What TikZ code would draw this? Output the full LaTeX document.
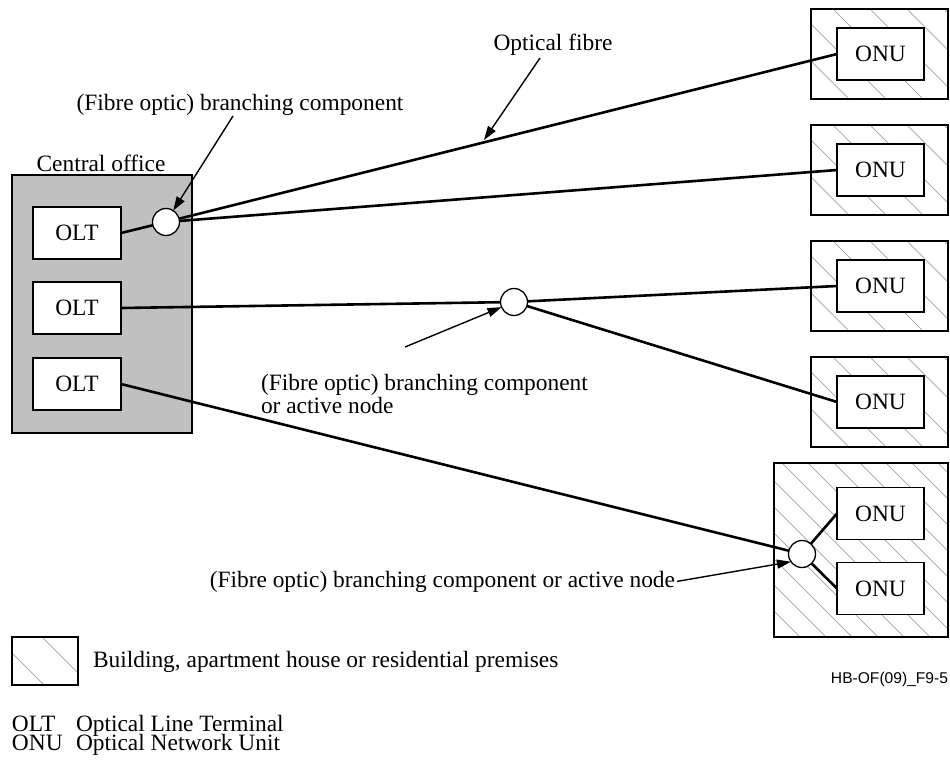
\documentclass[tikz,border=0pt]{standalone}
\usepackage{fontspec}
\setmainfont{Liberation Serif}
\newfontfamily\arialfont{Liberation Sans}
\usetikzlibrary{arrows.meta,backgrounds,calc}
\definecolor{cogray}{RGB}{192,192,192}
\definecolor{hatchgray}{RGB}{175,175,175}
\begin{document}
\begin{tikzpicture}[x=1pt,y=-1pt,
  every node/.style={font=\fontsize{23.4}{23}\selectfont},
  box/.style={draw, line width=1.3pt, fill=white, inner sep=0pt, outer sep=0pt},
  olt/.style={box, minimum width=88pt, minimum height=52pt},
  onu/.style={box, minimum width=87pt, minimum height=52pt},
  bldg/.style={draw, line width=1.3pt, inner sep=0pt, outer sep=0pt},
  split/.style={circle, draw, line width=1.3pt, fill=white, minimum size=27pt, inner sep=0pt, outer sep=0pt},
  fibre/.style={line width=2.6pt},
  arr/.style={line width=1.4pt, -{Triangle[length=14pt,width=9pt]}},
  hatch/.style={hatchgray, line width=1pt},
  txt/.style={inner sep=0pt, outer sep=0pt}
]
\useasboundingbox (0,0) rectangle (950,760);

% central office
\node[draw, line width=1.3pt, fill=cogray, inner sep=0pt, minimum width=180pt, minimum height=258pt] (co) at (102,304) {};
\node[txt, anchor=base] (tco) at (101,171) {Central office};

% buildings
\node[bldg, minimum width=137pt, minimum height=90pt] (b1) at (879.5,54) {};
\node[bldg, minimum width=137pt, minimum height=90pt] (b2) at (879.5,170) {};
\node[bldg, minimum width=137pt, minimum height=90pt] (b3) at (879.5,286) {};
\node[bldg, minimum width=137pt, minimum height=90pt] (b4) at (879.5,402) {};
\node[bldg, line width=2pt, minimum width=174pt, minimum height=174pt] (b5) at (861,550) {};
\node[bldg, minimum width=66pt, minimum height=48pt] (lg) at (45,661) {};

\begin{scope}[on background layer]
\foreach \bn/\sp in {b1/37,b2/37,b3/37,b4/37,b5/26,lg/46}{
  \begin{scope}
    \clip (\bn.south west) rectangle (\bn.north east);
    \foreach \k in {0,...,22}{
      \draw[hatch] ($(\bn.north west)+({\k*\sp-200},0)$) -- ++(300,300);
    }
  \end{scope}
}
\end{scope}

% OLTs
\node[olt] (olt1) at (77,233) {OLT};
\node[olt] (olt2) at (77,308) {OLT};
\node[olt] (olt3) at (77,384) {OLT};

% ONUs
\node[onu] (onu1) at (880.5,54) {ONU};
\node[onu] (onu2) at (880.5,170) {ONU};
\node[onu] (onu3) at (880.5,286) {ONU};
\node[onu] (onu4) at (880.5,402) {ONU};
\node[onu] (onu5) at (880.5,513.5) {ONU};
\node[onu] (onu6) at (880.5,588.5) {ONU};

% splitters
\node[split] (s1) at (166,222) {};
\node[split] (s2) at (514,302) {};
\node[split] (s3) at (802,554) {};

% fibres
\draw[fibre] (olt1.east) -- (s1);
\draw[fibre] (s1) -- (onu1.west);
\draw[fibre] (s1) -- (onu2.west);
\draw[fibre] (olt2.east) -- (s2);
\draw[fibre] (s2) -- (onu3.west);
\draw[fibre] (s2) -- (onu4.west);
\draw[fibre] (olt3.east) -- (s3);
\draw[fibre] (s3) -- (onu5.west);
\draw[fibre] (s3) -- (onu6.west);

% labels and pointers
\node[txt, anchor=base] (tfib) at (553,51) {Optical fibre};
\coordinate (af1) at (540,58);
\coordinate (af2) at (484,140);
\draw[arr] (af1) -- (af2);

\node[txt, anchor=base] (tbc1) at (240,110) {(Fibre optic) branching component};
\coordinate (ab1) at (233,116);
\draw[arr] (ab1) -- (s1);

\node[txt, anchor=west, align=left] (tbc2) at (261,393.5) {(Fibre optic) branching component\\or active node};
\coordinate (ab2) at (405,347);
\draw[arr] (ab2) -- (s2);

\node[txt, anchor=base east] (tbc3) at (675,587) {(Fibre optic) branching component or active node};
\draw[arr] ([xshift=2pt]tbc3.east) -- (s3.215);

% legend
\node[txt, anchor=base west] (lgt) at (93,667) {Building, apartment house or residential premises};
\node[txt, anchor=base east, font=\arialfont\fontsize{15.6}{18}\selectfont] (code) at (948,683) {HB-OF(09)\_F9-5};
\node[txt, anchor=base west] (k1) at (12,731) {OLT};
\node[txt, anchor=base west] (k1t) at (76,731) {Optical Line Terminal};
\node[txt, anchor=base west] (k2) at (12,750) {ONU};
\node[txt, anchor=base west] (k2t) at (76,750) {Optical Network Unit};
\end{tikzpicture}
\end{document}
